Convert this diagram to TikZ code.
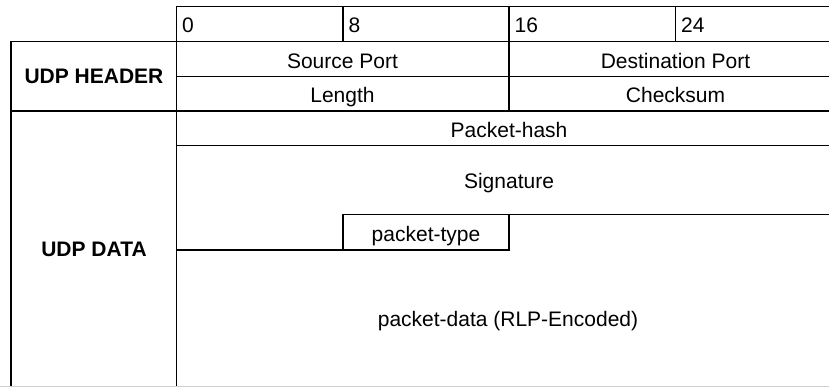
\documentclass[tikz,border=0pt]{standalone}
\usepackage{fontspec}
\setmainfont{Liberation Sans}
\begin{document}
\begin{tikzpicture}[x=1pt,y=-1pt,
  rule/.style={line width=1.4pt,black,line cap=rect},
  cell/.style={inner sep=0pt,anchor=base,font=\fontsize{21}{25}\selectfont},
  bitno/.style={cell,anchor=base west},
  section/.style={cell,font=\fontsize{21}{25}\selectfont\bfseries}]
\useasboundingbox (0,0) rectangle (829,387);
% column and row positions
\def\xa{11}\def\xb{176.5}\def\xc{343}\def\xd{509}\def\xe{675.5}\def\xr{829}
% bit ruler
\draw[rule] (\xb,387) -- (\xb,6.7) -- (\xr,6.7);
\foreach \x in {\xc,\xd,\xe} \draw[rule] (\x,6.7) -- (\x,41.7);
% header rows
\draw[rule] (\xa,387) -- (\xa,41.7) -- (\xr,41.7);
\draw[rule] (\xb,76.7) -- (\xr,76.7);
\draw[rule] (\xd,41.7) -- (\xd,111);
\draw[rule] (\xa,111) -- (\xr,111);
% data rows
\draw[rule] (\xb,145.7) -- (\xr,145.7);
\draw[rule] (\xb,249.8) -- (\xd,249.8) -- (\xd,214.3);
\draw[rule] (\xc,249.8) -- (\xc,214.3) -- (\xr,214.3);
\draw[line width=1pt,black!18] (0,386.5) -- (\xr,386.5);
% bit numbers
\node[bitno] (b0)  at (\xb+5.5,32.3) {0};
\node[bitno] (b8)  at (\xc+5.5,32.3) {8};
\node[bitno] (b16) at (\xd+5.5,32.3) {16};
\node[bitno] (b24) at (\xe+5.5,32.3) {24};
% section titles
\node[section] (hdr)  at (94,83.5)  {UDP HEADER};
\node[section] (data) at (94,256.7) {UDP DATA};
% fields
\node[cell] (src)   at (342.5,68.3)  {Source Port};
\node[cell] (dst)   at (675.5,68.3)  {Destination Port};
\node[cell] (len)   at (342.5,102.7) {Length};
\node[cell] (chk)   at (675.5,102.7) {Checksum};
\node[cell] (hash)  at (509,137.5)   {Packet-hash};
\node[cell] (sig)   at (509,188.3)   {Signature};
\node[cell] (ptype) at (426,241.5)   {packet-type};
\node[cell] (pdata) at (508,326.5)   {packet-data (RLP-Encoded)};
\end{tikzpicture}
\end{document}
